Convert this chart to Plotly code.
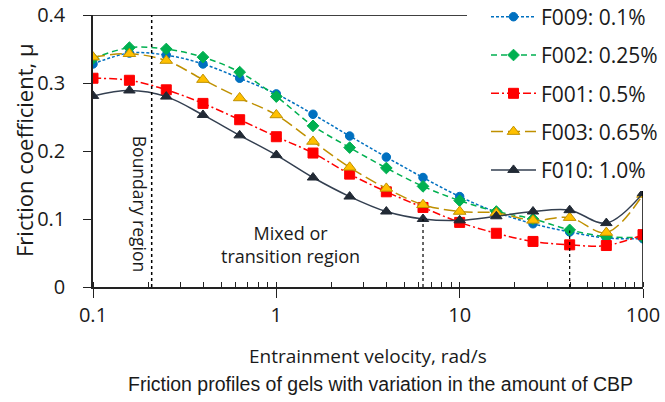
import plotly.graph_objects as go

# ---- data ----
velocity = [0.1, 0.158, 0.251, 0.398, 0.631, 1.0, 1.585, 2.512, 3.981, 6.31,
            10.0, 15.85, 25.12, 39.81, 63.1, 100.0]
f009 = [0.328, 0.344, 0.341, 0.328, 0.307, 0.284, 0.254, 0.222, 0.191, 0.161,
        0.133, 0.110, 0.093, 0.081, 0.072, 0.071]
f002 = [0.336, 0.352, 0.350, 0.338, 0.316, 0.280, 0.237, 0.205, 0.175, 0.148,
        0.127, 0.111, 0.100, 0.084, 0.074, 0.073]
f001 = [0.307, 0.304, 0.290, 0.270, 0.246, 0.221, 0.197, 0.166, 0.140, 0.117,
        0.095, 0.079, 0.067, 0.062, 0.061, 0.077]
f003 = [0.338, 0.343, 0.333, 0.305, 0.278, 0.253, 0.214, 0.176, 0.145, 0.121,
        0.111, 0.109, 0.098, 0.102, 0.080, 0.136]
f010 = [0.281, 0.289, 0.280, 0.253, 0.223, 0.194, 0.161, 0.133, 0.111, 0.100,
        0.098, 0.104, 0.111, 0.113, 0.094, 0.138]
series_names = ["F009: 0.1%", "F002: 0.25%", "F001: 0.5%", "F003: 0.65%", "F010: 1.0%"]

x_tick_vals = [0.1, 1, 10, 100]
x_tick_text = ["0.1", "1", "10", "100"]
y_tick_vals = [0, 0.1, 0.2, 0.3, 0.4]
y_tick_text = ["0", "0.1", "0.2", "0.3", "0.4"]

# region marker lines (x position, top value)
boundary_x = 0.209
marker_lines = [(6.31, 0.100), (39.81, 0.083)]
right_line_top = 0.150

FONT = "Open Sans"
TXT = "#1a1a1a"

# plot area in pixels
PL, PR, PT, PB = 93, 643, 14.5, 287.5


def px_x(px):
    return (px - PL) / (PR - PL)


def px_y(py):
    return (PB - py) / (PB - PT)


styles = [
    dict(color="#0070C0", dash="3px,2px", symbol="circle", size=8.5,
         mcolor="#0070C0", lcolor="#0070C0"),
    dict(color="#00B050", dash="6px,4px", symbol="diamond", size=9,
         mcolor="#00B050", lcolor="#00B050"),
    dict(color="#FF0000", dash="8px,3px,2px,3px", symbol="square", size=10,
         mcolor="#FF0000", lcolor="#FF0000"),
    dict(color="#BF9000", dash="12px,5px", symbol="triangle-up", size=11,
         mcolor="#FFC000", lcolor="#BF9000"),
    dict(color="#333F50", dash="solid", symbol="triangle-up", size=10,
         mcolor="#222A35", lcolor="#222A35"),
]

fig = go.Figure()
for i, (name, ys) in enumerate(zip(series_names, [f009, f002, f001, f003, f010])):
    s = styles[i]
    fig.add_trace(go.Scatter(
        x=velocity, y=ys, name=name, mode="lines+markers",
        legendgroup=f"g{i}",
        line=dict(color=s["color"], dash=s["dash"], width=1.5, shape="spline", smoothing=1),
        marker=dict(symbol=s["symbol"], size=s["size"], color=s["mcolor"],
                    line=dict(color=s["lcolor"], width=1)),
    ))

shapes = [
    dict(type="line", xref="x", yref="y", x0=boundary_x, x1=boundary_x, y0=0, y1=0.4,
         line=dict(color="black", width=1.5, dash="dot")),
    dict(type="line", xref="paper", yref="y", x0=0, x1=px_x(467), y0=0.4, y1=0.4,
         line=dict(color="black", width=1.5)),
    dict(type="line", xref="x", yref="y", x0=100, x1=100, y0=0, y1=right_line_top,
         line=dict(color="black", width=1.5)),
]
for xv, top in marker_lines:
    shapes.append(dict(type="line", xref="x", yref="y", x0=xv, x1=xv, y0=0, y1=top,
                       line=dict(color="black", width=1.2, dash="dot")))

annotations = [
    dict(text="Boundary region", xref="paper", yref="paper", x=px_x(140),
         y=px_y(204), textangle=90, showarrow=False,
         xanchor="center", yanchor="middle",
         font=dict(family=FONT, size=17.5, color=TXT)),
    dict(text="Mixed or<br>transition region", xref="paper", yref="paper",
         x=px_x(290), y=px_y(245), showarrow=False,
         xanchor="center", yanchor="middle",
         font=dict(family=FONT, size=18, color=TXT), align="center"),
    dict(text="Entrainment velocity, rad/s", xref="paper", yref="paper",
         x=0.5, y=px_y(357), xanchor="center", yanchor="middle", showarrow=False,
         font=dict(family=FONT, size=19, color=TXT)),
    dict(text="Friction profiles of gels with variation in the amount of CBP",
         xref="paper", yref="paper", x=px_x(380), y=px_y(385),
         yanchor="middle", xanchor="center", showarrow=False,
         font=dict(family="Liberation Sans", size=19.5, color=TXT)),
    dict(text="Friction coefficient, μ", xref="paper", yref="paper",
         x=px_x(24), y=px_y(150), textangle=-90, showarrow=False,
         xanchor="center", yanchor="middle",
         font=dict(family=FONT, size=22, color=TXT)),
]

fig.update_layout(
    width=665, height=402,
    margin=dict(l=PL, r=665 - PR, t=PT, b=402 - PB, autoexpand=False),
    paper_bgcolor="white", plot_bgcolor="white",
    font=dict(family=FONT, size=20, color=TXT),
    showlegend=True,
    legend=dict(
        xref="paper", yref="paper", x=px_x(486), y=px_y(-4),
        xanchor="left", yanchor="top",
        bgcolor="white", borderwidth=0,
        font=dict(family=FONT, size=21, color=TXT),
        tracegroupgap=8, itemwidth=45,
    ),
    shapes=shapes,
    annotations=annotations,
)

fig.update_xaxes(
    type="log", range=[-1, 2],
    tickvals=x_tick_vals, ticktext=x_tick_text,
    ticks="outside", ticklen=9, tickwidth=1.3, tickcolor="#222",
    showline=True, linecolor="#222", linewidth=1.5,
    showgrid=False, zeroline=False,
    tickfont=dict(family=FONT, size=20, color=TXT),
    minor=dict(ticks="inside", ticklen=5, tickwidth=1.2, tickcolor="#222",
               dtick="D1", showgrid=False),
)
fig.update_yaxes(
    range=[0, 0.4],
    tickvals=y_tick_vals, ticktext=y_tick_text,
    ticks="outside", ticklen=8, tickwidth=1.3, tickcolor="#222",
    showline=True, linecolor="#222", linewidth=1.5,
    showgrid=False, zeroline=False,
    ticklabelstandoff=14,
    tickfont=dict(family=FONT, size=20, color=TXT),
)

fig.write_html("out.html")
